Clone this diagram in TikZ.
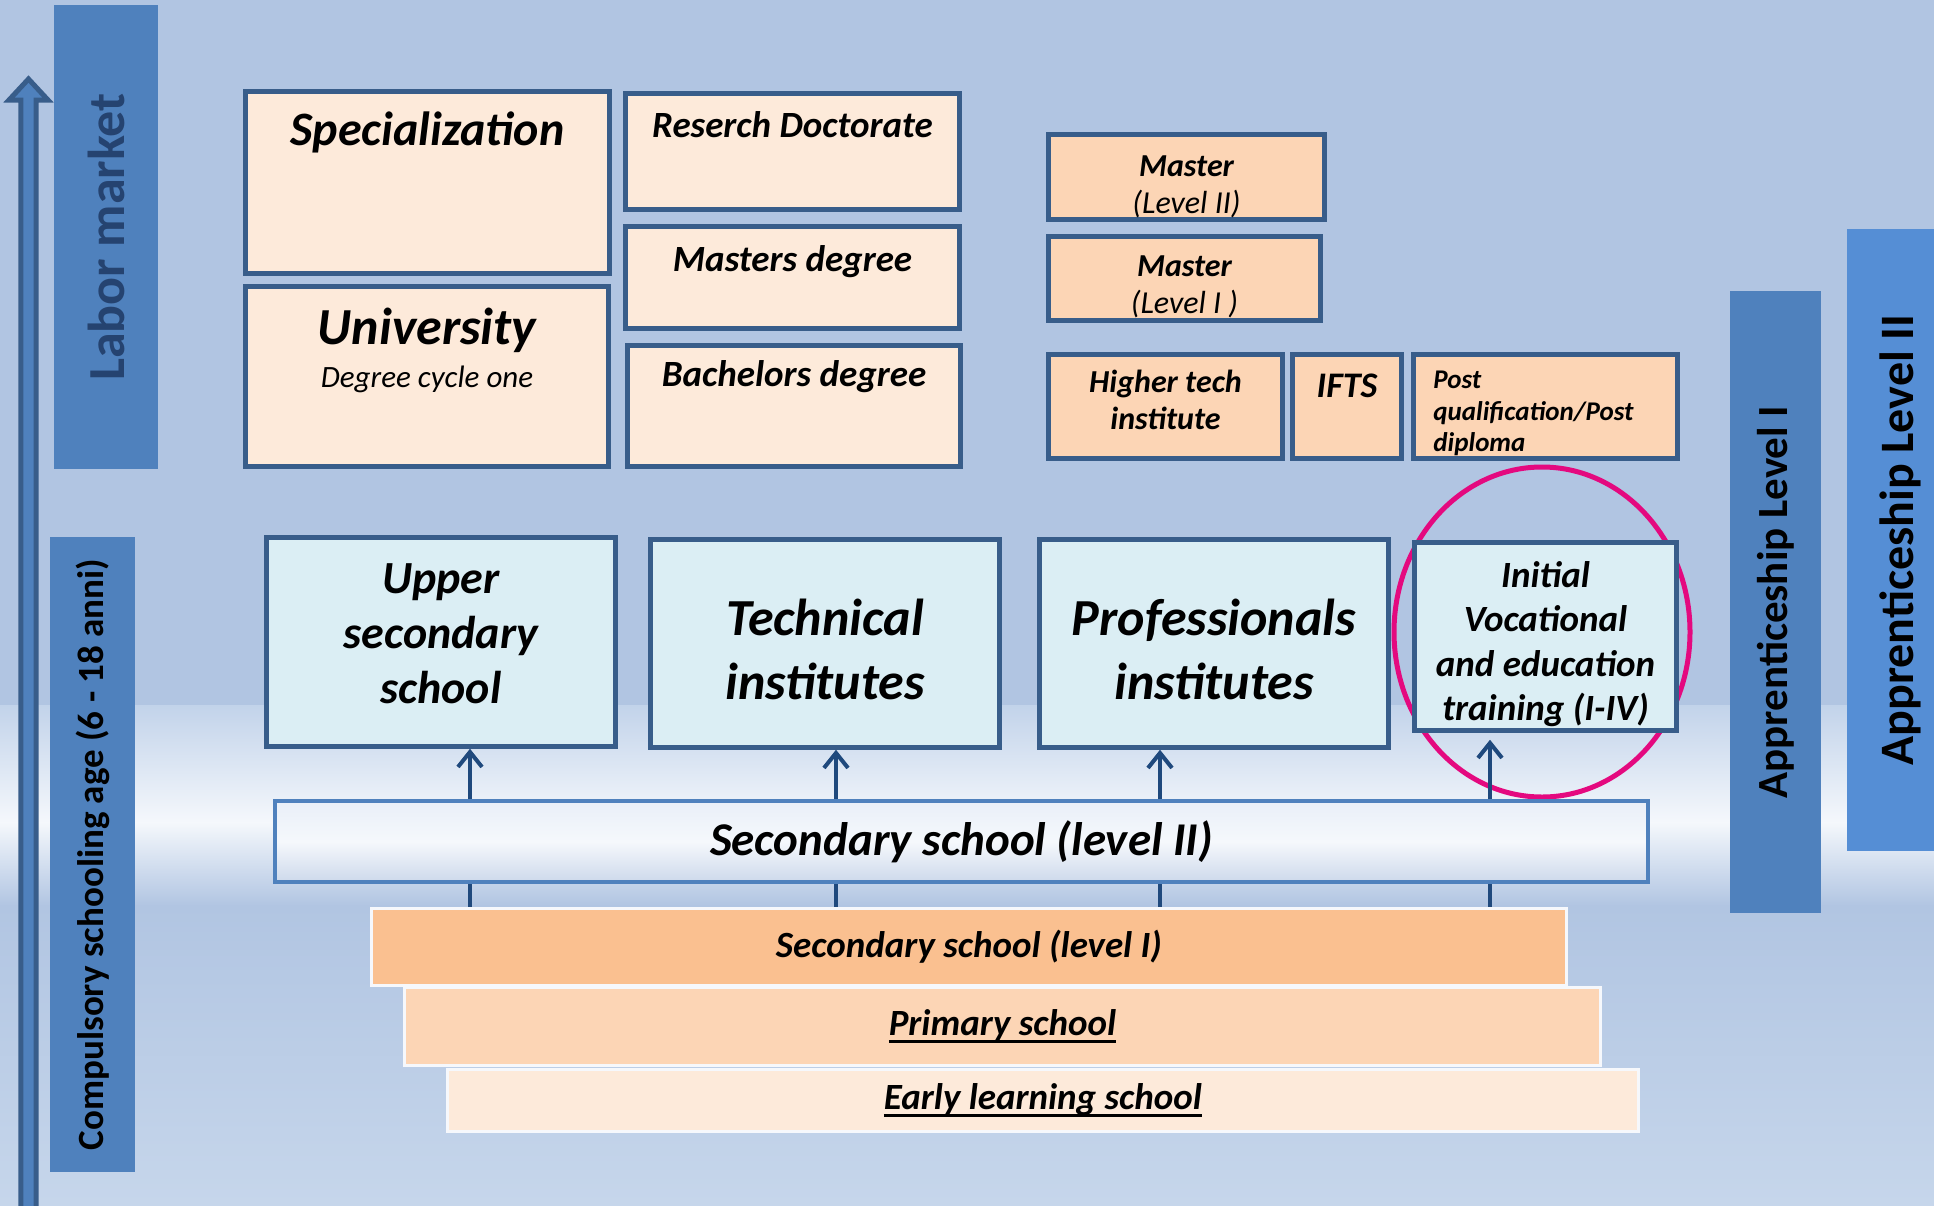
\documentclass[tikz,border=0pt]{standalone}
\usepackage{fontspec}
\setmainfont{Carlito}
\usetikzlibrary{arrows.meta}

\definecolor{bgblue}{HTML}{B1C5E2}
\definecolor{bgmid}{HTML}{C2D3EA}
\definecolor{bglight}{HTML}{F5F8FC}
\definecolor{bglow}{HTML}{C6D6EB}
\definecolor{barblue}{HTML}{4F81BD}
\definecolor{barblue2}{HTML}{558ED5}
\definecolor{frame}{HTML}{385D8A}
\definecolor{navy}{HTML}{1F497D}
\definecolor{cream}{HTML}{FDEADA}
\definecolor{peach}{HTML}{FCD5B5}
\definecolor{apricot}{HTML}{FAC090}
\definecolor{ice}{HTML}{DBEEF4}
\definecolor{ring}{HTML}{E4097F}
\definecolor{labortext}{HTML}{254370}
\definecolor{sectop}{HTML}{E9EFF8}
\definecolor{secbot}{HTML}{CDD9EB}

\newcommand{\fsz}[2]{\fontsize{#1}{#2}\selectfont}
\newsavebox{\ulbox}
\newcommand{\ulined}[1]{\sbox{\ulbox}{#1}\rlap{\rule[-7pt]{\wd\ulbox}{3pt}}\usebox{\ulbox}}

\begin{document}
\begin{tikzpicture}[x=1pt,y=-1pt]
    \tikzset{
        box/.style={draw=frame, line width=4.5pt, inner sep=0pt},
        intext/.style n args={4}{label={[anchor=north, yshift=-#1pt, font=\bfseries\itshape\fsz{#2}{#3}]north:{#4}}},
        tier/.style={draw=white!88!bgblue, line width=3.5pt, inner sep=0pt, font=\bfseries\itshape\fsz{37}{44}},
        band/.style={fill=barblue, inner sep=0pt, rotate=90},
        rise/.style={draw=navy, line width=4pt, -{Straight Barb[length=15pt,width=24pt]}},
        link/.style={draw=navy, line width=3.5pt},
        every label/.style={inner sep=0pt, align=center}
    }
    \useasboundingbox (0,0) rectangle (1934,1205);
    \clip (0,0) rectangle (1934,1205);

    % background
    \fill[bgblue] (0,0) rectangle (1934,706);
    \shade[top color=bgmid, bottom color=bglight] (0,705) rectangle (1934,823);
    \shade[top color=bglight, bottom color=bgblue] (0,822) rectangle (1934,906);
    \shade[top color=bgblue, bottom color=bglow] (0,905) rectangle (1934,1205);

    % side bands
    \node[band, minimum width=464pt, minimum height=104pt, text=labortext, font=\bfseries\fsz{52}{60}] (labor) at (106,237) {Labor market};
    \node[band, minimum width=635pt, minimum height=85pt, font=\bfseries\fsz{37}{44}] (school) at (92.5,854.5) {Compulsory schooling age (6 - 18 anni)};
    \node[band, minimum width=622pt, minimum height=91pt, font=\bfseries\fsz{43}{50}] (app1) at (1775.5,602) {Apprenticeship Level I};
    \node[band, fill=barblue2, minimum width=622pt, minimum height=106pt, font=\bfseries\fsz{48}{56}] (app2) at (1900,540) {Apprenticeship Level II};

    % age arrow
    \draw[fill=barblue, draw=frame, line width=5pt] (20.8,1220) -- (20.8,100) -- (9,100) -- (28.5,79) -- (48,100) -- (36.2,100) -- (36.2,1220) -- cycle;

    % university
    \node[box, fill=cream, minimum width=364pt, minimum height=182pt, intext={22}{48}{58}{Specialization}] (spec) at (427.5,182.5) {};
    \node[box, fill=cream, minimum width=363pt, minimum height=180pt, intext={24}{52}{62}{University}, intext={82}{31}{37}{\mdseries Degree cycle one}] (uni) at (427,376.5) {};
    \node[box, fill=cream, minimum width=334pt, minimum height=116pt, intext={20}{37}{44}{Reserch Doctorate}] (phd) at (792.5,151.5) {};
    \node[box, fill=cream, minimum width=334pt, minimum height=102pt, intext={21}{37}{44}{Masters degree}] (msc) at (792.5,277.5) {};
    \node[box, fill=cream, minimum width=333pt, minimum height=121pt, intext={17}{37}{44}{Bachelors degree}] (bsc) at (794,406) {};

    % higher education outside university
    \node[box, fill=peach, minimum width=276pt, minimum height=85pt, intext={23}{32}{37}{Master\\{\mdseries (Level II)}}] (mas2) at (1186.5,177) {};
    \node[box, fill=peach, minimum width=272pt, minimum height=84pt, intext={21}{32}{37}{Master\\{\mdseries (Level I )}}] (mas1) at (1184.5,278.5) {};
    \node[box, fill=peach, minimum width=234pt, minimum height=104pt, intext={18}{32}{37}{Higher tech\\institute}] (hti) at (1165.5,406.5) {};
    \node[box, fill=peach, minimum width=109pt, minimum height=104pt, intext={21}{36}{42}{IFTS}] (ifts) at (1347,406.5) {};
    \node[box, fill=peach, minimum width=264pt, minimum height=104pt,
        label={[anchor=north west, xshift=22pt, yshift=-19pt, align=left, font=\bfseries\itshape\fsz{27}{31.5}]north west:Post\\qualification/Post\\diploma}] (post) at (1545.5,406.5) {};

    % ring round vocational training
    \draw[ring, line width=5pt] (1542,632) ellipse [x radius=148pt, y radius=165pt];

    % upper secondary
    \node[box, fill=ice, minimum width=349pt, minimum height=209pt, intext={28}{46}{55}{Upper\\secondary\\school}] (upper) at (441,642) {};
    \node[box, fill=ice, minimum width=349pt, minimum height=208pt, intext={62}{52}{64}{Technical\\institutes}] (tech) at (825,643.5) {};
    \node[box, fill=ice, minimum width=349pt, minimum height=208pt, intext={62}{52}{64}{Professionals\\institutes}] (prof) at (1214,643.5) {};
    \node[box, fill=ice, minimum width=262pt, minimum height=188pt, intext={21}{37}{44.5}{Initial\\Vocational\\and education\\training (I-IV)}] (ivet) at (1545.5,636.5) {};

    % lower levels
    \node[draw=barblue, line width=4pt, inner sep=0pt, top color=sectop, bottom color=secbot, middle color=bglight,
        minimum width=1373pt, minimum height=81pt, font=\bfseries\itshape\fsz{47}{56}] (sec2) at (961.5,841.5) {Secondary school (level II)};
    \node[tier, fill=cream, minimum width=1191pt, minimum height=62pt] (early) at (1043,1100.5) {\ulined{Early learning school}};
    \node[tier, fill=peach, minimum width=1196pt, minimum height=78pt] (prim) at (1002.5,1026.5) {\ulined{Primary school}};
    \node[tier, fill=apricot, minimum width=1195pt, minimum height=77pt] (sec1) at (969,947) {Secondary school (level I)};

    % connectors
    \coordinate (c1) at (470,0);
    \coordinate (c2) at (836,0);
    \coordinate (c3) at (1160,0);
    \coordinate (c4) at (1490,0);
    \foreach \x/\dst in {c1/upper, c2/tech, c3/prof}
        \draw[rise] (sec2.north -| \x) -- (\dst.south -| \x);
    \draw[rise, shorten >=7pt] (sec2.north -| c4) -- (ivet.south -| c4);
    \foreach \x in {c1,c2,c3,c4}
        \draw[link] (sec1.north -| \x) -- (sec2.south -| \x);
\end{tikzpicture}
\end{document}
